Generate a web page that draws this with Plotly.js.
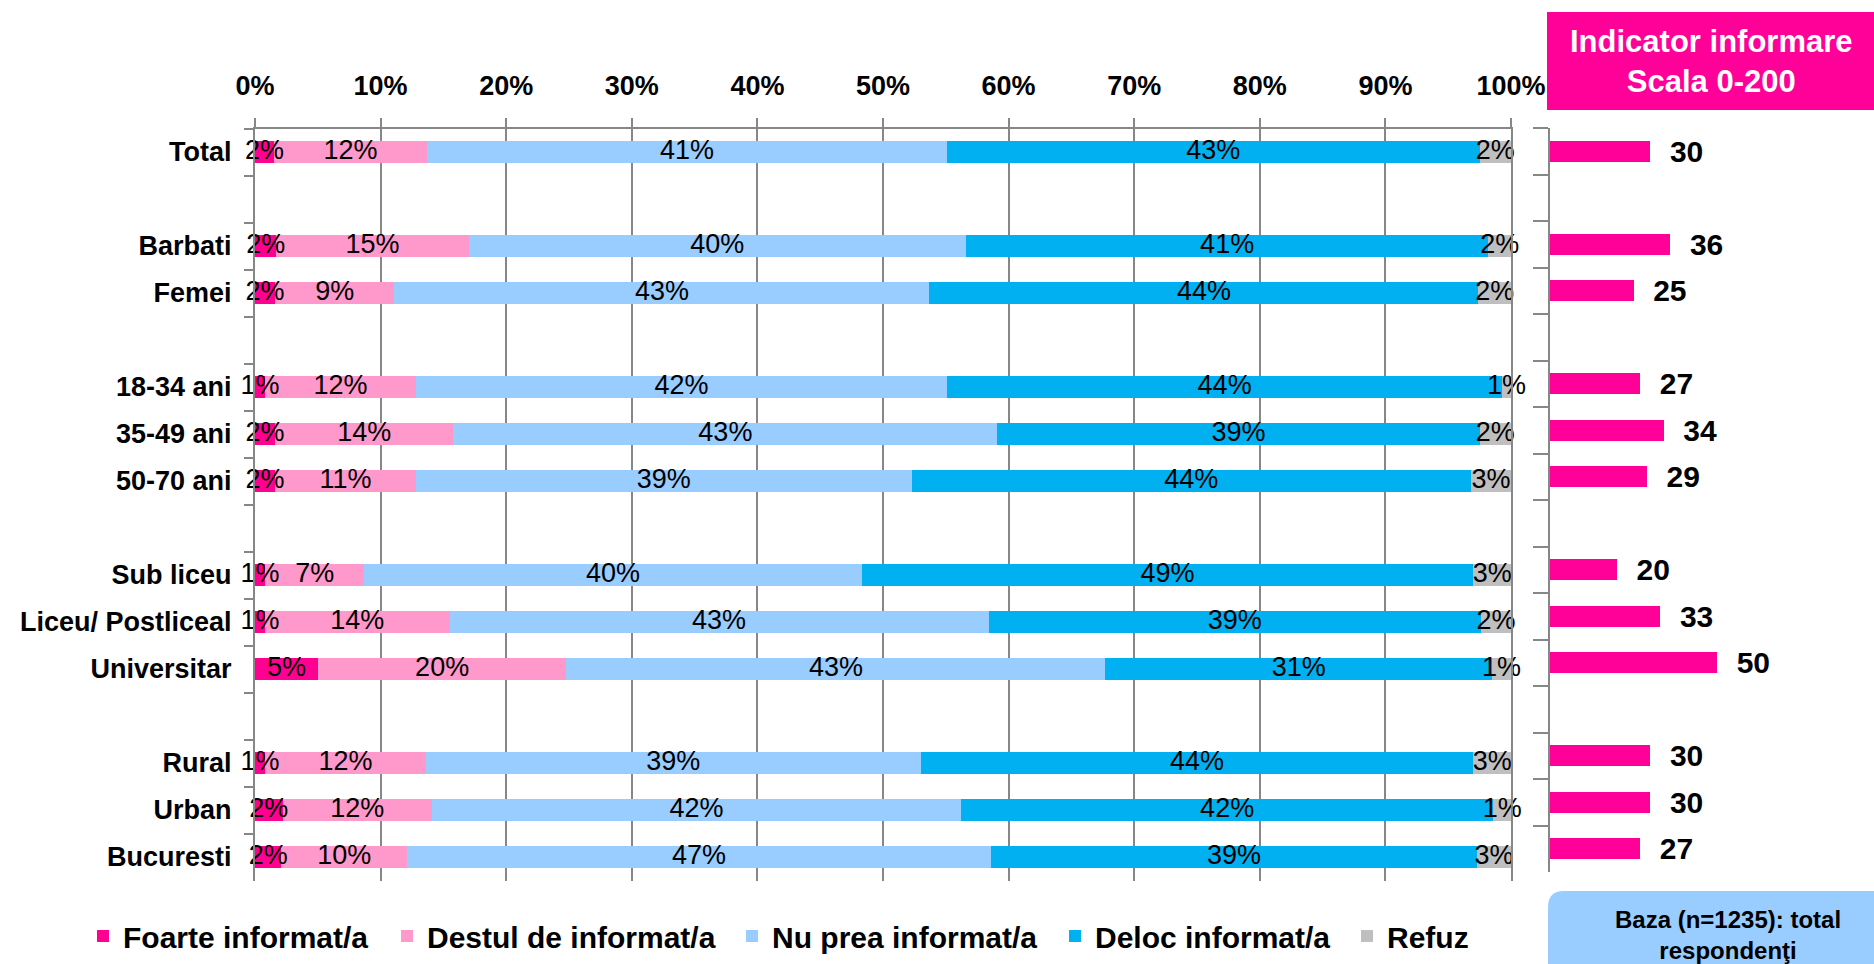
<!DOCTYPE html>
<html>
<head>
<meta charset="utf-8">
<script src="https://cdn.plot.ly/plotly-3.0.1.min.js"></script>
<style>html,body{margin:0;padding:0;background:#fff;}#chart{width:1874px;height:964px;}</style>
</head>
<body>
<div id="chart"></div>
<script>
// Row categories (blank rows separate the groups)
const categories = ['Total', ' ', 'Barbati', 'Femei', '  ', '18-34 ani', '35-49 ani', '50-70 ani', '   ',
  'Sub liceu', 'Liceu/ Postliceal', 'Universitar', '    ', 'Rural', 'Urban', 'Bucuresti'];

// Segment widths (%)
const foarte = [1.5, null, 1.7, 1.6, null, 0.8, 1.6, 1.6, null, 0.8, 0.8, 5.0, null, 0.8, 2.2, 2.1];
const destul = [12.2, null, 15.3, 9.5, null, 12.0, 14.2, 11.2, null, 7.9, 14.7, 19.8, null, 12.8, 11.9, 10.0];
const nuprea = [41.4, null, 39.6, 42.6, null, 42.3, 43.3, 39.5, null, 39.6, 42.9, 42.9, null, 39.4, 42.1, 46.5];
const deloc  = [42.4, null, 41.6, 43.7, null, 44.2, 38.4, 44.5, null, 48.7, 39.2, 30.8, null, 44.0, 42.4, 38.7];
const refuz  = [2.5, null, 1.8, 2.6, null, 0.7, 2.5, 3.2, null, 3.0, 2.4, 1.5, null, 3.0, 1.4, 2.7];

// Printed labels (%)
const foarteLbl = [2, null, 2, 2, null, 1, 2, 2, null, 1, 1, 5, null, 1, 2, 2];
const destulLbl = [12, null, 15, 9, null, 12, 14, 11, null, 7, 14, 20, null, 12, 12, 10];
const nupreaLbl = [41, null, 40, 43, null, 42, 43, 39, null, 40, 43, 43, null, 39, 42, 47];
const delocLbl  = [43, null, 41, 44, null, 44, 39, 44, null, 49, 39, 31, null, 44, 42, 39];
const refuzLbl  = [2, null, 2, 2, null, 1, 2, 3, null, 3, 2, 1, null, 3, 1, 3];

// Indicator informare (scale 0-200)
const indicator = [30, null, 36, 25, null, 27, 34, 29, null, 20, 33, 50, null, 30, 30, 27];

const seriesNames = ['Foarte informat/a', 'Destul de informat/a', 'Nu prea informat/a', 'Deloc informat/a', 'Refuz'];
const xTicks = [0, 10, 20, 30, 40, 50, 60, 70, 80, 90, 100];

const FONT = 'Liberation Sans, Arial, sans-serif';
const GRID = '#878787';
const colors = ['#FF0090', '#FF99CC', '#99CCFF', '#00B0F0', '#BFBFBF'];
const vals = [foarte, destul, nuprea, deloc, refuz];
const lbls = [foarteLbl, destulLbl, nupreaLbl, delocLbl, refuzLbl];
const legendIds = ['legend', 'legend2', 'legend3', 'legend4', 'legend5'];
const legendX = [83, 387, 732, 1055, 1347];

const W = 1874, H = 964;
const traces = vals.map((v, i) => ({
  type: 'bar', orientation: 'h', name: seriesNames[i],
  y: categories, x: v, textposition: 'none',
  marker: {color: colors[i], line: {width: 0}},
  legend: legendIds[i],
  xaxis: 'x', yaxis: 'y', hoverinfo: 'skip'
}));

// Segment labels, placed at the middle of each stacked segment
const cum = categories.map(() => 0);
vals.forEach((v, i) => {
  const mids = v.map((d, k) => {
    if (d == null) return null;
    const m = cum[k] + d / 2;
    cum[k] += d;
    return m;
  });
  traces.push({
    type: 'scatter', mode: 'text', x: mids, y: categories,
    text: lbls[i].map(t => t == null ? '' : t + '%'),
    textposition: 'middle center',
    textfont: {family: FONT, size: 27, color: '#000'},
    showlegend: false, cliponaxis: false, hoverinfo: 'skip', xaxis: 'x', yaxis: 'y'
  });
});

traces.push({
  type: 'bar', orientation: 'h', name: 'Indicator',
  y: categories, x: indicator,
  texttemplate: '\u00A0\u00A0%{x}', textposition: 'outside', constraintext: 'none',
  outsidetextfont: {family: FONT, size: 30, color: '#000', weight: 'bold'},
  marker: {color: '#FF0099', line: {width: 0}},
  showlegend: false, xaxis: 'x2', yaxis: 'y2', hoverinfo: 'skip', cliponaxis: false
});

const legendDefs = {};
legendIds.forEach((id, i) => {
  legendDefs[id] = {
    x: legendX[i] / W, y: 1 - 936 / H, xanchor: 'left', yanchor: 'middle',
    orientation: 'h', bgcolor: 'rgba(0,0,0,0)', borderwidth: 0,
    font: {family: FONT, size: 30, color: '#000', weight: 'bold'}
  };
});

const rx = 16 / W, ry = 16 / H;
const bx0 = 1548 / W, by1 = 1 - 891 / H;
const bazaPath = `M ${bx0},-0.05 L ${bx0},${by1 - ry} Q ${bx0},${by1} ${bx0 + rx},${by1} L 1.01,${by1} L 1.01,-0.05 Z`;
const nCat = categories.length;

const layout = Object.assign({
  width: W, height: H,
  margin: {l: 0, r: 0, t: 0, b: 0},
  paper_bgcolor: '#fff', plot_bgcolor: '#fff',
  barmode: 'stack', bargap: 0.54,
  font: {family: FONT, color: '#000'},
  xaxis: {
    domain: [255 / W, 1511 / W], range: [0, 100], side: 'top',
    tickvals: xTicks, ticktext: xTicks.map(t => t + '%'),
    showgrid: true, gridcolor: GRID, gridwidth: 2, zeroline: false,
    showline: true, linecolor: GRID, linewidth: 2,
    ticks: 'outside', ticklen: 9, tickwidth: 2, tickcolor: GRID,
    tickfont: {family: FONT, size: 27, color: '#000', weight: 'bold'},
    ticklabelstandoff: 12, fixedrange: true
  },
  yaxis: {
    domain: [1 - 880.5 / H, 1 - 128.5 / H], type: 'category',
    categoryorder: 'array', categoryarray: categories, range: [nCat - 0.5, -0.5], autorange: false,
    ticks: 'outside', tickson: 'boundaries', ticklen: 9, tickwidth: 2, tickcolor: GRID,
    showline: true, mirror: true, linecolor: GRID, linewidth: 2, showgrid: false,
    tickfont: {family: FONT, size: 27, color: '#000', weight: 'bold'},
    ticklabelstandoff: 16, fixedrange: true
  },
  xaxis2: {domain: [1550 / W, 1], range: [0, 97], visible: false, anchor: 'y2', fixedrange: true},
  yaxis2: {
    domain: [1 - 872 / H, 1 - 128 / H], anchor: 'x2', type: 'category',
    categoryorder: 'array', categoryarray: categories, range: [nCat - 0.5, -0.5], autorange: false,
    ticks: 'outside', tickson: 'boundaries', ticklen: 15, tickwidth: 2, tickcolor: GRID,
    showline: true, linecolor: GRID, linewidth: 2, showgrid: false,
    showticklabels: false, fixedrange: true
  },
  shapes: [
    {type: 'rect', xref: 'paper', yref: 'paper', x0: 1547 / W, x1: 1.01, y0: 1 - 110 / H, y1: 1 - 12 / H,
     fillcolor: '#FF0099', line: {width: 0}, layer: 'below'},
    {type: 'path', xref: 'paper', yref: 'paper', path: bazaPath, fillcolor: '#99CCFF', line: {width: 0}, layer: 'below'}
  ],
  annotations: [
    {xref: 'paper', yref: 'paper', x: 1711 / W, y: 1 - 61 / H, xanchor: 'center', yanchor: 'middle',
     text: 'Indicator informare<br>Scala 0-200', showarrow: false, align: 'center',
     font: {family: FONT, size: 31, color: '#fff', weight: 'bold'}},
    {xref: 'paper', yref: 'paper', x: 1728 / W, y: 1 - 935 / H, xanchor: 'center', yanchor: 'middle',
     text: 'Baza (n=1235): total<br>responden\u0163i', showarrow: false, align: 'center',
     font: {family: FONT, size: 24, color: '#000', weight: 'bold'}}
  ],
  showlegend: true
}, legendDefs);

Plotly.newPlot('chart', traces, layout, {displayModeBar: false, staticPlot: true});
</script>
</body>
</html>
